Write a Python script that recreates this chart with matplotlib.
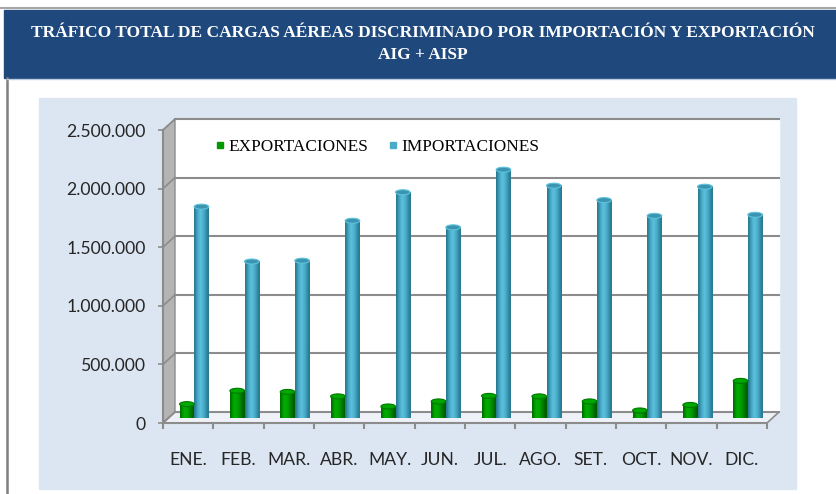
import numpy as np
import matplotlib.pyplot as plt
from matplotlib.patches import Rectangle, Polygon, Ellipse
from matplotlib.lines import Line2D
from matplotlib.colors import to_rgb

# data
meses = ['ENE.', 'FEB.', 'MAR.', 'ABR.', 'MAY.', 'JUN.', 'JUL.', 'AGO.', 'SET.', 'OCT.', 'NOV.', 'DIC.']
exportaciones = [118000, 232000, 222000, 184000, 98000, 141000, 188000, 184000, 141000, 64000, 111000, 316000]
importaciones = [1800000, 1333000, 1340000, 1680000, 1923000, 1624000, 2115000, 1979000, 1856000, 1722000, 1970000, 1731000]
yticks = [0, 500000, 1000000, 1500000, 2000000, 2500000]

W, H = 836, 494
fig = plt.figure(figsize=(W / 100, H / 100), dpi=100)


def box(x0, y0, x1, y1):
    return [x0 / W, 1 - y1 / H, (x1 - x0) / W, (y1 - y0) / H]


# background decorations in pixel coordinates
bg = fig.add_axes([0, 0, 1, 1])
bg.set_xlim(0, W)
bg.set_ylim(H, 0)
bg.axis('off')
bg.add_line(Line2D([0, W], [8, 8], color='#A6A6A6', lw=1.5))
bg.add_line(Line2D([6.5, 6.5], [78, H], color='#7F7F7F', lw=1.8))
bg.add_patch(Rectangle((4, 10), W - 4, 68, color='#1F497D'))
bg.add_line(Line2D([7, W], [79, 79], color='#B8CCE4', lw=1))
bg.text(423, 33, 'TRÁFICO TOTAL DE CARGAS AÉREAS DISCRIMINADO POR IMPORTACIÓN Y EXPORTACIÓN',
        ha='center', va='center', color='white', fontsize=12.5, fontweight='bold', family='Liberation Serif')
bg.text(423, 55, 'AIG + AISP', ha='center', va='center', color='white', fontsize=12.5,
        fontweight='bold', family='Liberation Serif')
bg.add_patch(Rectangle((39, 98), 757, 391, color='#DCE6F2'))
# walls
bg.add_patch(Rectangle((175, 119), 604, 293, color='white'))
bg.add_patch(Polygon([(163, 130), (175, 119), (175, 412), (163, 423)], closed=True,
                     facecolor='#B4B4B4', edgecolor='#8C8C8C', lw=1))
bg.add_patch(Polygon([(175, 412), (779, 412), (767, 423), (163, 423)], closed=True,
                     facecolor='#EEF2F8', edgecolor='#8C8C8C', lw=1.2))

# back wall with gridlines
back = fig.add_axes(box(175, 119, 779, 412))
back.set_xlim(0, 12)
back.set_ylim(0, 2500000)
back.patch.set_alpha(0)
for s in back.spines.values():
    s.set_visible(False)
back.set_xticks([])
back.set_yticks([])
dx, dy = -12 / 50.33, -11 / 293 * 2500000
for v in yticks:
    back.plot([0, 12], [v, v], color='#8C8C8C', lw=1.5, clip_on=False)
    back.plot([0, dx], [v, v + dy], color='#8C8C8C', lw=1.2, clip_on=False)

# front axis with labels
front = fig.add_axes(box(163, 130, 767, 423))
front.set_xlim(0, 12)
front.set_ylim(0, 2500000)
front.patch.set_alpha(0)
front.spines['top'].set_visible(False)
front.spines['right'].set_visible(False)
for s in ['left', 'bottom']:
    front.spines[s].set_color('#8C8C8C')
    front.spines[s].set_linewidth(1.5)
front.set_yticks(yticks)
front.set_yticklabels([f'{v:,}'.replace(',', '.') for v in yticks])
front.tick_params(axis='y', length=3.6, width=1.2, color='#8C8C8C', pad=9, labelsize=12.7,
                  labelcolor='#262626')
front.set_xticks(np.arange(13))
front.set_xticklabels([])
front.tick_params(axis='x', which='major', length=4.5, width=1.5, color='#8C8C8C')
front.set_xticks(np.arange(12) + 0.5, minor=True)
front.set_xticklabels(meses, minor=True)
front.tick_params(axis='x', which='minor', length=0, pad=21, labelsize=12.6, labelcolor='#262626')
for lab in front.get_yticklabels() + front.get_xticklabels(minor=True):
    lab.set_family('Lato')

# bars at mid depth
mid = fig.add_axes(box(169, 124.5, 773, 418))
mid.set_xlim(0, 12)
mid.set_ylim(0, 2500000)
mid.axis('off')

bw = 0.29
cap = 5 / 293 * 2500000
blue_grad = ['#2A7C95', '#3E9DB9', '#4FB3D0', '#5CC0DC', '#52B6D2', '#45A7C4', '#3690AB', '#2A7A92']
green_grad = ['#007000', '#009A00', '#00AC00', '#00A600', '#009800', '#008600', '#007000', '#005A00']
bgrad = np.array([[to_rgb(c) for c in blue_grad]])
ggrad = np.array([[to_rgb(c) for c in green_grad]])

x = np.arange(12) + 0.5
for i in range(12):
    for x0, v, grad, top, rim in [(x[i] - bw, exportaciones[i], ggrad, '#00A800', '#007A00'),
                                  (x[i], importaciones[i], bgrad, '#3B95B0', '#5EC2DD')]:
        mid.add_patch(Ellipse((x0 + bw / 2, 0), bw, cap, facecolor=grad[0][3], edgecolor='none', zorder=2))
        mid.imshow(grad, extent=[x0, x0 + bw, 0, v], aspect='auto', interpolation='bilinear', zorder=3)
        mid.add_patch(Ellipse((x0 + bw / 2, v), bw, cap, facecolor=top, edgecolor=rim, lw=0.8, zorder=4))
mid.set_xlim(0, 12)
mid.set_ylim(0, 2500000)

# legend
handles = [Line2D([], [], marker='s', ls='none', color='#009A00', markersize=4.7),
           Line2D([], [], marker='s', ls='none', color='#4BACC6', markersize=4.7)]
leg = back.legend(handles, ['EXPORTACIONES', 'IMPORTACIONES'], ncol=2, frameon=False,
                  loc='center left', bbox_to_anchor=(0.053, 1 - 28 / 293), borderpad=0,
                  handlelength=0.5, handletextpad=0.22, columnspacing=1.2,
                  prop={'family': 'Liberation Serif', 'size': 12.4})

fig.savefig('out.png', dpi=100)
